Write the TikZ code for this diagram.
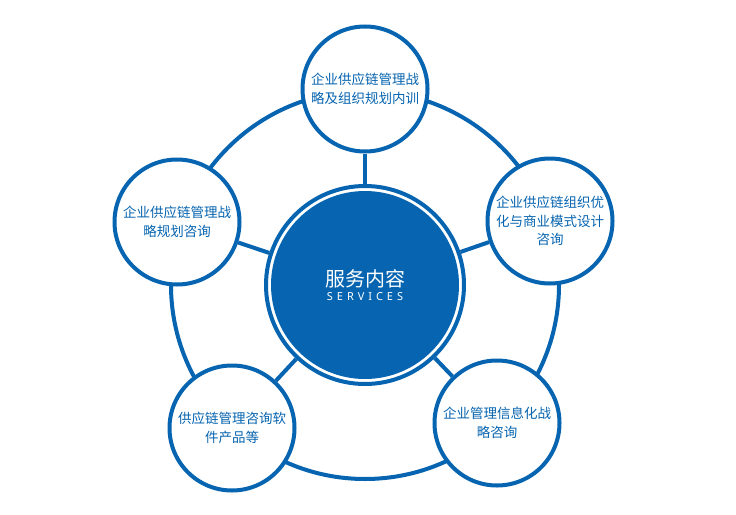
\documentclass[tikz,border=0pt]{standalone}
\usepackage{fontspec}
\newfontfamily\cjk{Noto Sans CJK SC}
\newfontfamily\spaced[LetterSpace=36]{Noto Sans}
\usetikzlibrary{calc}
\definecolor{svcblue}{RGB}{6,100,176}

\begin{document}
\begin{tikzpicture}[x=1pt,y=-1pt,
  item/.style={circle, draw=svcblue, line width=4pt, fill=white,
    minimum size=125pt, inner sep=0pt, align=center, text=svcblue,
    font=\cjk\fontsize{13.5}{18.5}\selectfont},
  spoke/.style={draw=svcblue, line width=4pt}]
\useasboundingbox (0,0) rectangle (736,514);
\def\ringr{194}

\coordinate (O) at (365,285);
\draw[svcblue, line width=4pt] (O) circle (\ringr);

% the five services
\node[item] (top) at (365,89) {企业供应链管理战\\略及组织规划内训};
\node[item] (right) at (550,221) {企业供应链组织优\\化与商业模式设计\\咨询};
\node[item] (left) at (177,222) {企业供应链管理战\\略规划咨询};
\node[item] (botleft) at (232,428) {供应链管理咨询软\\件产品等};
\node[item] (botright) at (497,423) {企业管理信息化战\\略咨询};

% hub
\node[circle, draw=svcblue, line width=4pt, fill=white, minimum size=198pt] (hub) at (O) {};
\node[circle, fill=svcblue, minimum size=188pt, inner sep=0pt, align=center, text=white] (core) at (O)
  {{\cjk\fontsize{20}{24}\selectfont 服务内容}\\[2pt]{\spaced\fontsize{11}{13}\selectfont SERVICES\hspace{-3pt}}};

\foreach \s in {top, right, left, botleft, botright}
  \draw[spoke] (hub) -- (\s);
\end{tikzpicture}
\end{document}
